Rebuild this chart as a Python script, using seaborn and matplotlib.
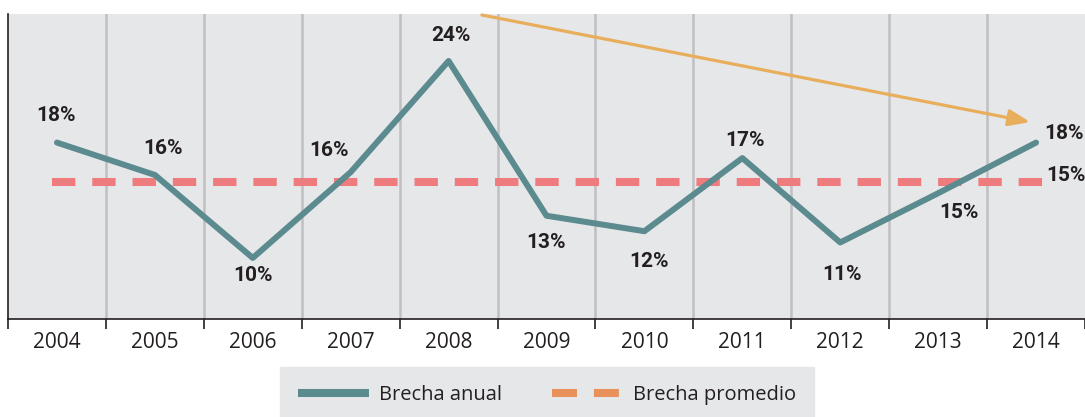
import matplotlib
matplotlib.use("Agg")
import matplotlib.pyplot as plt
import seaborn as sns
import numpy as np
import pandas as pd
from matplotlib.lines import Line2D

years = ["2004", "2005", "2006", "2007", "2008", "2009", "2010", "2011", "2012", "2013", "2014"]
brecha_anual = [18.2, 15.9, 10.0, 16.1, 24.0, 13.0, 11.9, 17.1, 11.1, 14.6, 18.2]
labels_anual = ["18%", "16%", "10%", "16%", "24%", "13%", "12%", "17%", "11%", "15%", "18%"]
brecha_promedio = 15.4
label_promedio = "15%"

# label offsets in pixels (dx, dy), dy positive = up
offsets = [(-1, 27), (8, 26), (0, -18), (-22, 22), (2, 25), (-1, -27),
           (5, -30), (3, 18), (2, -32), (21, -19), (28, 9)]

teal = "#5B8A8F"
salmon = "#EE7B7D"
orange = "#E8915A"
arrow_c = "#E8AE5C"
bg = "#E6E7E9"
grid_c = "#C0C0C2"
txt = "#231F20"

sns.set_theme(style="white")
plt.rcParams['font.family'] = ['Open Sans', 'DejaVu Sans']

fig = plt.figure(figsize=(10.85, 4.17), dpi=100)
ax = fig.add_axes([8 / 1085, 1 - 319 / 417, 1 - 8 / 1085, 305 / 417])
ax.set_facecolor(bg)

df = pd.DataFrame({"pos": np.arange(len(years)), "brecha": brecha_anual})

ax.set_xlim(-0.5, len(years) - 0.5)
ax.set_ylim(5.66, 27.34)

for b in np.arange(0.5, len(years) - 0.5, 1):
    ax.axvline(b, color=grid_c, lw=1.8, zorder=1)

ax.plot([-0.05, len(years) - 0.87], [brecha_promedio, brecha_promedio], color=salmon,
        lw=5.8, dashes=(2.9, 2.1), solid_capstyle="butt", dash_capstyle="butt", zorder=2)

sns.lineplot(data=df, x="pos", y="brecha", color=teal, lw=4.3, ax=ax, zorder=3)

lab_font = dict(fontsize=15, fontweight="bold", family=["Roboto", "DejaVu Sans"], color=txt)
for i, (v, lab) in enumerate(zip(brecha_anual, labels_anual)):
    dx, dy = offsets[i]
    ax.annotate(lab, (i, v), xytext=(dx, dy), textcoords="offset pixels",
                ha="center", va="center", zorder=5, annotation_clip=False, **lab_font)
ax.annotate(label_promedio, (len(years) - 1, brecha_promedio), xytext=(30, 6),
            textcoords="offset pixels", ha="center", va="center",
            annotation_clip=False, zorder=5, **lab_font)

ax.annotate("", xy=(9.94, 19.66), xytext=(4.34, 27.27),
            arrowprops=dict(arrowstyle="-|>,head_length=0.65,head_width=0.25",
                            mutation_scale=20, color=arrow_c, lw=2.3,
                            shrinkA=0, shrinkB=0),
            annotation_clip=False, zorder=4)

ax.set_xticks(np.arange(len(years)))
ax.set_xticklabels(years, fontsize=15, color=txt)
ax.set_xticks(np.arange(-0.5, len(years), 1), minor=True)
ax.tick_params(axis="x", which="major", length=0, pad=9)
ax.tick_params(axis="x", which="minor", length=7, width=1.2, color=txt, bottom=True)
ax.set_yticks([])
ax.set_xlabel("")
ax.set_ylabel("")
for s in ["top", "right"]:
    ax.spines[s].set_visible(False)
for s in ["left", "bottom"]:
    ax.spines[s].set_color(txt)
    ax.spines[s].set_linewidth(1.2)

handles = [
    Line2D([], [], color=teal, lw=5.8, solid_capstyle="butt"),
    Line2D([], [], color=orange, lw=5.8, dashes=(3.1, 2.1), dash_capstyle="butt"),
]
leg = fig.legend(handles, ["Brecha anual", "Brecha promedio"], loc="center",
                 bbox_to_anchor=(547 / 1085, 1 - 395 / 417), ncol=2, frameon=True,
                 fancybox=False, fontsize=14.5, handlelength=3.5, handletextpad=0.5,
                 columnspacing=2.5, borderpad=0.9)
leg.get_frame().set_facecolor(bg)
leg.get_frame().set_edgecolor(bg)
leg.get_frame().set_alpha(1)
for t in leg.get_texts():
    t.set_color(txt)

fig.savefig("out.png", dpi=100)
